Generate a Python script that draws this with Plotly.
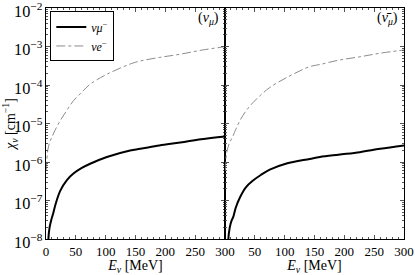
import plotly.graph_objects as go

# nu_mu panel (left)
E_mu_L = [3.7, 4, 6, 9, 12, 16, 24, 35, 46, 60, 74, 102, 141, 158, 190, 225, 260, 300]
chi_mu_L = [5e-9, 1.0e-8, 2.0e-8, 3.2e-8, 4.6e-8, 8e-8, 1.8e-7, 3.4e-7, 5e-7, 7e-7, 9e-7, 1.35e-6, 2.0e-6, 2.2e-6, 2.7e-6, 3.2e-6, 3.9e-6, 4.6e-6]
E_e_L = [0.5, 1, 3, 6, 9.5, 15, 24, 35, 46, 60, 74, 102, 141, 158, 190, 225, 260, 300]
chi_e_L = [6e-7, 9e-7, 2e-6, 3.2e-6, 4.3e-6, 6.6e-6, 1.2e-5, 2.2e-5, 3.9e-5, 6.5e-5, 1.05e-4, 1.9e-4, 3.5e-4, 4.2e-4, 5.2e-4, 6.3e-4, 8e-4, 9.9e-4]

# anti-nu_mu panel (right)
E_mu_R = [5.3, 5.6, 8, 11, 14, 18, 25, 35, 47, 60, 75, 103, 142, 159, 190, 226, 260, 300]
chi_mu_R = [5e-9, 1e-8, 2e-8, 3e-8, 3.8e-8, 6.5e-8, 1.2e-7, 2.2e-7, 3.3e-7, 4.6e-7, 6.3e-7, 9.1e-7, 1.2e-6, 1.35e-6, 1.55e-6, 1.8e-6, 2.2e-6, 2.7e-6]
E_e_R = [0.5, 1, 3, 7, 11, 14, 18, 25, 35, 47, 60, 75, 103, 142, 159, 190, 226, 260, 300]
chi_e_R = [6e-7, 9e-7, 1.8e-6, 3e-6, 4e-6, 5e-6, 7e-6, 1.19e-5, 2.1e-5, 3.5e-5, 5.5e-5, 8.6e-5, 1.55e-4, 3.0e-4, 3.4e-4, 4.4e-4, 5.4e-4, 6.7e-4, 8.1e-4]

FONT = "Liberation Serif"
GRAY = "#8c8c8c"

fig = go.Figure()
fig.add_trace(go.Scatter(x=E_mu_L, y=chi_mu_L, mode="lines", name="<i>νμ</i><sup>−</sup>",
                         line=dict(color="black", width=2, shape="spline", smoothing=1.0), xaxis="x", yaxis="y"))
fig.add_trace(go.Scatter(x=E_e_L, y=chi_e_L, mode="lines", name="<i>νe</i><sup>−</sup>",
                         line=dict(color=GRAY, width=1, dash="dashdot", shape="spline", smoothing=1.0), xaxis="x", yaxis="y"))
fig.add_trace(go.Scatter(x=E_mu_R, y=chi_mu_R, mode="lines", showlegend=False,
                         line=dict(color="black", width=2, shape="spline", smoothing=1.0), xaxis="x2", yaxis="y2"))
fig.add_trace(go.Scatter(x=E_e_R, y=chi_e_R, mode="lines", showlegend=False,
                         line=dict(color=GRAY, width=1, dash="dashdot", shape="spline", smoothing=1.0), xaxis="x2", yaxis="y2"))

common_x = dict(range=[0, 300], showgrid=False, zeroline=False, showline=True, linecolor="black",
                linewidth=1, mirror="ticks", ticks="inside", ticklen=4, tickcolor="#555",
                tick0=0, dtick=50, automargin=False, ticklabeloverflow="allow",
                minor=dict(ticks="inside", ticklen=2, dtick=10, tickcolor="#555", showgrid=False),
                tickfont=dict(family=FONT, size=13, color="black"),
                title=dict(text="<i>E<sub>ν</sub></i> [MeV]", font=dict(family=FONT, size=14, color="black"), standoff=2))
common_y = dict(type="log", range=[-8.0001, -1.9999], showgrid=False, zeroline=False, showline=True, linecolor="black",
                linewidth=1, mirror="ticks", ticks="inside", ticklen=4, tickcolor="#555",
                dtick=1, exponentformat="power", automargin=False, ticklabeloverflow="allow",
                minor=dict(ticks="inside", ticklen=2, tickcolor="#555", showgrid=False),
                tickfont=dict(family=FONT, size=13, color="black"))

fig.update_layout(
    width=415, height=275,
    margin=dict(l=46, r=11, t=8, b=36),
    plot_bgcolor="white", paper_bgcolor="white",
    font=dict(family=FONT, color="black"),
    xaxis=dict(domain=[0, 0.5], anchor="y", **common_x),
    xaxis2=dict(domain=[0.5, 1], anchor="y2", labelalias={"0": ""}, **common_x),
    yaxis=dict(domain=[0, 1], anchor="x", ticklabelshift=3,
               title=dict(text="<i>χ<sub>ν</sub></i> [cm<sup>−1</sup>]", font=dict(family=FONT, size=14, color="black"), standoff=2),
               **common_y),
    yaxis2=dict(domain=[0, 1], anchor="x2", showticklabels=False, **common_y),
    legend=dict(x=0.012, y=0.985, xanchor="left", yanchor="top", bgcolor="white",
                bordercolor="black", borderwidth=1, font=dict(family=FONT, size=12),
                itemwidth=30, tracegroupgap=0),
    annotations=[
        dict(text="(<i>ν<sub>μ</sub></i>)", xref="x domain", yref="y domain", x=0.98, y=0.955,
             xanchor="right", yanchor="middle", showarrow=False, font=dict(family=FONT, size=14)),
        dict(text="(<i>ν\u0304<sub>μ</sub></i>)", xref="x2 domain", yref="y2 domain", x=0.98, y=0.955,
             xanchor="right", yanchor="middle", showarrow=False, font=dict(family=FONT, size=14)),
    ],
)

fig.write_html("out.html", config={"displayModeBar": False},
               post_script="document.body.style.margin='0';document.body.style.overflow='hidden';")
